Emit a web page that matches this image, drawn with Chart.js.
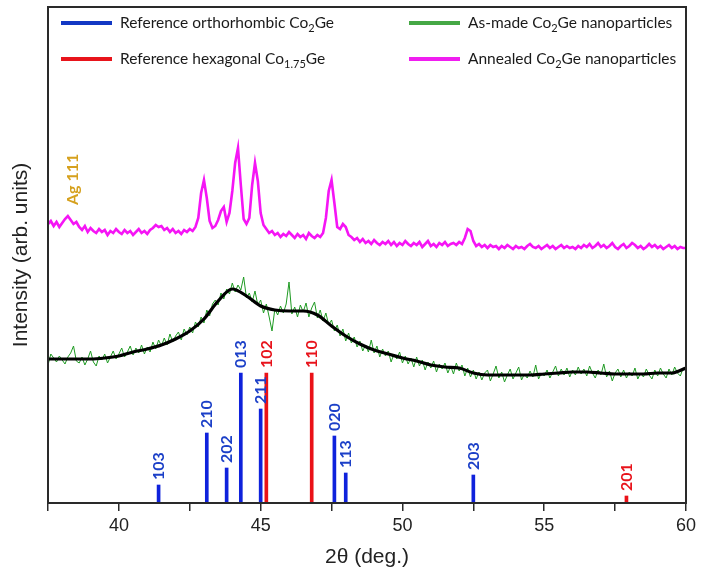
<!DOCTYPE html>
<html>
<head>
<meta charset="utf-8">
<script src="https://cdn.jsdelivr.net/npm/chart.js@4"></script>
<style>
html,body{margin:0;padding:0;background:#fff;}
#wrap{width:703px;height:580px;position:relative;}
</style>
</head>
<body>
<div id="wrap"><canvas id="c" width="703" height="580"></canvas></div>
<script>
// ---- data ----
const xMin = 37.5, xMax = 60, tickStep = 2.5;
const sampleStart = 37.5, sampleStep = 0.1;   // grid of the measured patterns
const fitStart = 37.5, fitStep = 0.5;          // grid of the smoothed fit

const annealed = [
279,282,277,281,276,280,284,287,283,279,
281,276,273,277,271,275,272,270,274,271,
273,268,272,270,274,271,269,273,270,272,
268,271,274,270,272,269,273,275,278,276,
277,273,275,271,274,270,272,269,273,271,
274,272,276,285,310,323,305,282,275,277,
283,292,296,281,290,312,340,355,318,284,
279,285,318,340,322,290,278,274,270,272,
268,270,266,269,267,271,268,265,269,266,
268,264,270,267,265,268,266,270,285,312,
323,300,276,274,279,276,268,266,263,265,
261,264,260,262,259,263,260,258,261,259,
262,258,261,257,260,258,262,259,257,260,
258,261,256,259,262,257,259,256,260,258,
261,257,259,260,258,261,259,265,274,272,
262,257,259,256,258,255,258,256,257,254,
257,255,258,256,254,257,255,256,254,257,
259,256,255,257,254,256,258,255,257,254,
256,258,255,257,255,256,254,257,255,258,
256,259,255,257,260,256,258,255,257,260,
256,254,257,259,255,257,260,258,255,257,
254,256,259,256,258,255,257,254,256,258,
255,257,254,256,255,255];

const asMade = [
138,149,145,141,147,143,139,146,150,157,
142,140,146,138,144,152,141,137,147,143,
149,140,146,152,144,149,155,146,151,157,
148,155,150,158,149,156,151,161,154,163,
157,165,158,169,161,167,171,163,174,168,
176,170,181,176,186,180,193,187,199,203,
198,210,204,214,209,220,211,218,213,226,
205,210,201,212,198,203,190,199,186,172,
194,188,197,190,199,221,189,196,186,198,
191,200,186,195,201,185,193,182,190,178,
183,172,178,167,174,162,170,160,166,156,
162,152,158,151,163,150,157,146,154,147,
152,141,149,144,151,140,147,139,145,136,
146,137,143,133,141,135,142,131,139,134,
140,130,137,129,140,132,138,127,135,126,
133,124,131,123,130,133,122,129,137,125,
131,121,128,134,124,130,136,123,129,125,
132,126,138,124,130,127,133,125,131,137,
127,134,128,135,126,133,128,136,129,134,
127,137,130,125,133,128,139,126,132,122,
130,134,126,133,125,131,127,135,124,130,
126,134,128,124,133,127,135,129,125,134,
128,136,130,127,135,133];

const fitted = [
144,144,144,144,145,147,151,154,158,164,
172,184,202,214,207,197,193,192,192,188,
177,167,159,153,149,145,142,138,136,135,
130,128,128,128,128,129,130,131,131,130,
129,129,129,130,130,135];

const orthoPos = [41.4, 43.1, 43.8, 44.3, 45.0, 47.6, 48.0, 52.5];
const orthoH   = [18, 70, 35, 130, 94, 67, 30, 28];
const orthoHKL = ['103','210','202','013','211','020','113','203'];
const hexPos = [45.2, 46.8, 57.9];
const hexH   = [130, 130, 7];
const hexHKL = ['102','110','201'];
const agPos = 38.35, agLevel = 293, agText = 'Ag 111';

const legendItems = [
  {color:'#1238c4', parts:[['Reference orthorhombic Co',0],['2',1],['Ge',0]], col:0, row:0},
  {color:'#e8141b', parts:[['Reference hexagonal Co',0],['1.75',1],['Ge',0]], col:0, row:1},
  {color:'#45a845', parts:[['As-made Co',0],['2',1],['Ge nanoparticles',0]], col:1, row:0},
  {color:'#f01ef0', parts:[['Annealed Co',0],['2',1],['Ge nanoparticles',0]], col:1, row:1}
];
const xTitle = '2\u03b8 (deg.)';
const yTitle = 'Intensity (arb. units)';

// ---- build datasets ----
const annealedPts = annealed.map((v,i)=>({x:+(sampleStart+i*sampleStep).toFixed(2), y:v}));
const asMadePts = asMade.map((v,i)=>({x:+(sampleStart+i*sampleStep).toFixed(2), y:v}));
const fittedPts = fitted.map((v,i)=>({x:fitStart+i*fitStep, y:v}));
const orthoPts = orthoPos.map((p,i)=>({x:p, y:orthoH[i]}));
const hexPts = hexPos.map((p,i)=>({x:p, y:hexH[i]}));

const BLUE = '#0f22dc', RED = '#ea1218';
const LBLUE = '#1c40c8', LRED = '#e8141c';
const LFONT = '"Lato", "Open Sans", sans-serif';

const framePlugin = {
  id:'frame',
  afterDraw(chart){
    const ctx = chart.ctx, a = chart.chartArea;
    const xs = chart.scales.x, ys = chart.scales.y;
    ctx.save();
    // stick labels
    ctx.font = 'bold 16px ' + LFONT;
    ctx.textBaseline = 'middle';
    ctx.textAlign = 'left';
    const lab = (pos, h, txt, col) => {
      const px = xs.getPixelForValue(pos), py = ys.getPixelForValue(h) - 5;
      ctx.save(); ctx.translate(px+0.5, py); ctx.rotate(-Math.PI/2);
      ctx.fillStyle = col; ctx.fillText(txt, 0, 0); ctx.restore();
    };
    orthoPos.forEach((p,i)=>lab(p, orthoH[i], orthoHKL[i], LBLUE));
    hexPos.forEach((p,i)=>lab(p, hexH[i], hexHKL[i], LRED));
    lab(agPos, agLevel, agText, '#d6a11e');
    // frame
    ctx.strokeStyle = '#2a2a2a'; ctx.lineWidth = 2;
    ctx.strokeRect(a.left, a.top, a.right-a.left, a.bottom-a.top);
    // legend
    const colX = [61, 409], rowY = [23, 59];
    legendItems.forEach(it=>{
      const x0 = colX[it.col], y0 = rowY[it.row];
      ctx.strokeStyle = it.color; ctx.lineWidth = 4;
      ctx.beginPath(); ctx.moveTo(x0, y0); ctx.lineTo(x0+51, y0); ctx.stroke();
      let tx = x0 + 59;
      ctx.fillStyle = '#1a1a1a'; ctx.textBaseline='middle'; ctx.textAlign='left';
      it.parts.forEach(([t,sub])=>{
        if (sub){ ctx.font = '11px ' + LFONT; ctx.fillText(t, tx, y0+5); tx += ctx.measureText(t).width; }
        else { ctx.font = '15.5px ' + LFONT; ctx.fillText(t, tx, y0); tx += ctx.measureText(t).width; }
      });
    });
    ctx.restore();
  }
};

new Chart(document.getElementById('c'), {
  type:'line',
  data:{
    datasets:[
      {label:'Fit', data:fittedPts, borderColor:'#000', borderWidth:3.2, pointRadius:0, cubicInterpolationMode:'monotone', order:0},
      {label:'As-made', data:asMadePts, borderColor:'#1e9a22', borderWidth:1, pointRadius:0, tension:0, order:1},
      {label:'Annealed', data:annealedPts, borderColor:'#f515f5', borderWidth:2.6, pointRadius:0, tension:0, order:2},
      {type:'bar', label:'ortho', data:orthoPts, backgroundColor:BLUE, barThickness:3, grouped:false, order:3},
      {type:'bar', label:'hex', data:hexPts, backgroundColor:RED, barThickness:3, grouped:false, order:3}
    ]
  },
  options:{
    responsive:false, animation:false,
    layout:{padding:{top:7, right:17, left:0, bottom:0}},
    plugins:{legend:{display:false}, tooltip:{enabled:false}},
    scales:{
      x:{type:'linear', min:xMin, max:xMax, offset:false,
        afterFit(s){ s.height = 77; },
        border:{display:false},
        grid:{drawOnChartArea:false, drawTicks:true, tickLength:8, color:'#2a2a2a', lineWidth:1.5, offset:false},
        ticks:{stepSize:tickStep, autoSkip:false, maxRotation:0, padding:4, color:'#222',
          font:{family:'"Liberation Sans", Arial, sans-serif', size:18},
          callback:(v)=> (Math.abs(v % 5) < 1e-9 ? String(v) : '')},
        title:{display:true, text:xTitle, color:'#222', padding:{top:4,bottom:10},
          font:{family:'"Liberation Sans", Arial, sans-serif', size:21}}
      },
      y:{type:'linear', min:0, max:496,
        afterFit(s){ s.width = 48; },
        border:{display:false},
        grid:{display:false},
        ticks:{display:false},
        title:{display:true, text:yTitle, color:'#222', padding:{top:9,bottom:0},
          font:{family:'"Liberation Sans", Arial, sans-serif', size:21}}
      }
    }
  },
  plugins:[framePlugin]
});
</script>
</body>
</html>
